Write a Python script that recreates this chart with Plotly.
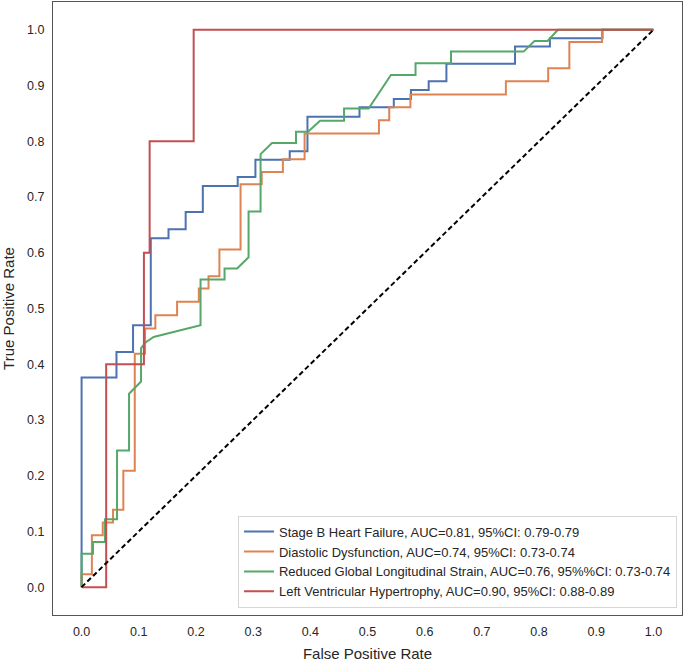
import plotly.graph_objects as go

# ROC curve points
names = [
    "Stage B Heart Failure, AUC=0.81, 95%CI: 0.79-0.79",
    "Diastolic Dysfunction, AUC=0.74, 95%CI: 0.73-0.74",
    "Reduced Global Longitudinal Strain, AUC=0.76, 95%%CI: 0.73-0.74",
    "Left Ventricular Hypertrophy, AUC=0.90, 95%CI: 0.88-0.89",
]
colors = ["#4C72B0", "#DD8452", "#55A868", "#C44E52"]

sbhf_fpr = [0, 0, 0.061, 0.061, 0.090, 0.090, 0.121, 0.121, 0.152, 0.152, 0.182, 0.182,
            0.212, 0.212, 0.273, 0.273, 0.304, 0.304, 0.364, 0.364, 0.395, 0.395, 0.486, 0.486,
            0.546, 0.546, 0.576, 0.576, 0.607, 0.607, 0.638, 0.638, 0.758, 0.758, 0.819, 0.819,
            0.911, 0.911, 1.0]
sbhf_tpr = [0, 0.376, 0.376, 0.422, 0.422, 0.470, 0.470, 0.626, 0.626, 0.642, 0.642, 0.673,
            0.673, 0.720, 0.720, 0.736, 0.736, 0.767, 0.767, 0.782, 0.782, 0.844, 0.844, 0.861,
            0.861, 0.876, 0.876, 0.892, 0.892, 0.908, 0.908, 0.939, 0.939, 0.970, 0.970, 0.985,
            0.985, 1.0, 1.0]

dd_fpr = [0, 0, 0.018, 0.018, 0.037, 0.037, 0.055, 0.055, 0.073, 0.073, 0.093, 0.093,
          0.111, 0.111, 0.129, 0.129, 0.167, 0.167, 0.205, 0.205, 0.222, 0.222, 0.241, 0.241,
          0.278, 0.278, 0.315, 0.315, 0.352, 0.352, 0.390, 0.390, 0.520, 0.520, 0.538, 0.538,
          0.575, 0.575, 0.742, 0.742, 0.816, 0.816, 0.853, 0.853, 0.910, 0.910, 1.0]
dd_tpr = [0, 0.023, 0.023, 0.093, 0.093, 0.116, 0.116, 0.139, 0.139, 0.209, 0.209, 0.419,
          0.419, 0.464, 0.464, 0.488, 0.488, 0.512, 0.512, 0.536, 0.536, 0.558, 0.558, 0.606,
          0.606, 0.723, 0.723, 0.745, 0.745, 0.768, 0.768, 0.814, 0.814, 0.838, 0.838, 0.861,
          0.861, 0.884, 0.884, 0.908, 0.908, 0.931, 0.931, 0.978, 0.978, 1.0, 1.0]

gls_fpr = [0, 0, 0.020, 0.020, 0.041, 0.041, 0.062, 0.062, 0.083, 0.083, 0.104, 0.104,
           0.113, 0.126, 0.208, 0.208, 0.250, 0.250, 0.272, 0.292, 0.292, 0.313, 0.313, 0.333,
           0.375, 0.375, 0.396, 0.417, 0.459, 0.459, 0.502, 0.541, 0.584, 0.584, 0.646, 0.646,
           0.773, 0.792, 0.815, 0.833, 1.0]
gls_tpr = [0, 0.060, 0.060, 0.081, 0.081, 0.122, 0.122, 0.245, 0.245, 0.347, 0.369, 0.429,
           0.440, 0.449, 0.470, 0.552, 0.552, 0.572, 0.572, 0.592, 0.674, 0.674, 0.777, 0.797,
           0.797, 0.817, 0.817, 0.837, 0.837, 0.859, 0.859, 0.919, 0.919, 0.940, 0.940, 0.961,
           0.961, 0.980, 0.980, 1.0, 1.0]

lvh_fpr = [0, 0.043, 0.043, 0.109, 0.109, 0.119, 0.119, 0.196, 0.196, 1.0]
lvh_tpr = [0, 0, 0.4, 0.4, 0.6, 0.6, 0.8, 0.8, 1.0, 1.0]

chance = [0, 1]
ticks = [0.0, 0.1, 0.2, 0.3, 0.4, 0.5, 0.6, 0.7, 0.8, 0.9, 1.0]

fig = go.Figure()
for name, color, fx, ty in zip(names, colors,
                               [sbhf_fpr, dd_fpr, gls_fpr, lvh_fpr],
                               [sbhf_tpr, dd_tpr, gls_tpr, lvh_tpr]):
    fig.add_trace(go.Scatter(x=fx, y=ty, mode="lines", name=name,
                             line=dict(color=color, width=2)))
fig.add_trace(go.Scatter(x=chance, y=chance, mode="lines", showlegend=False,
                         line=dict(color="black", width=2, dash="5px,3px")))

font = "Liberation Sans, Arial, sans-serif"
axis_common = dict(range=[-0.05, 1.05], tickvals=ticks, tickformat=".1f",
                   showgrid=False, zeroline=False, showline=True, mirror=True,
                   linecolor="#555555", linewidth=1, ticks="", automargin=False,
                   ticklabelstandoff=5,
                   tickfont=dict(size=12.5, color="#262626", family=font))
fig.update_layout(
    width=685, height=662,
    margin=dict(l=53, r=3, t=2, b=47),
    paper_bgcolor="white", plot_bgcolor="white",
    font=dict(family=font, color="#262626"),
    xaxis=dict(**axis_common, title=dict(text="False Positive Rate",
               font=dict(size=15, color="#262626"), standoff=10)),
    yaxis=dict(**axis_common, title=dict(text="True Positive Rate",
               font=dict(size=15, color="#262626"), standoff=13)),
    legend=dict(x=0.992, y=0.012, xanchor="right", yanchor="bottom",
                bgcolor="white", bordercolor="#d6d6d6", borderwidth=1,
                font=dict(size=13, color="#262626", family=font),
                tracegroupgap=0),
    showlegend=True,
)
fig.write_html("out.html", config={"displayModeBar": False},
               post_script="document.body.style.margin='0';document.body.style.overflow='hidden';")
